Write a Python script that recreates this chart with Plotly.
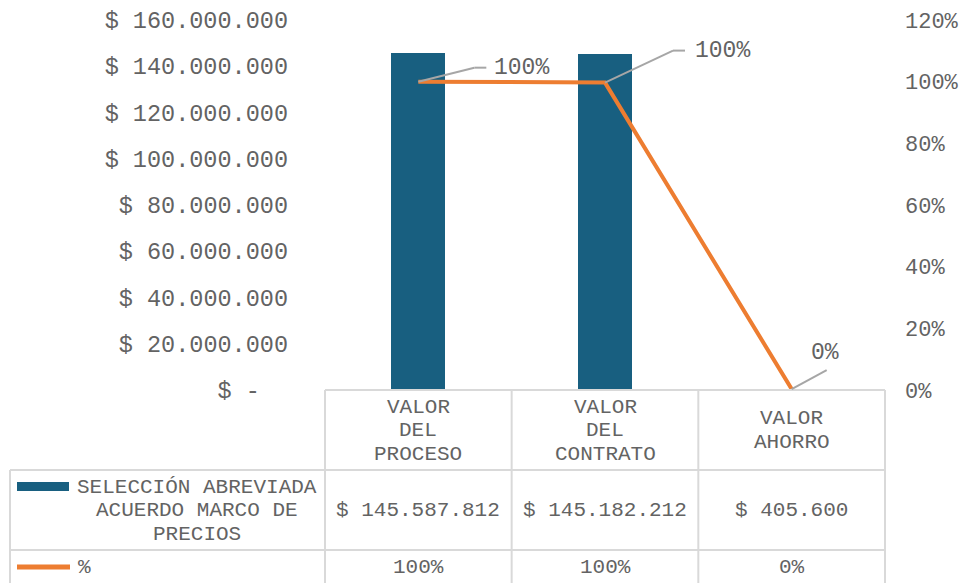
import plotly.graph_objects as go

# ---------------- data ----------------
categories = ["VALOR DEL PROCESO", "VALOR DEL CONTRATO", "VALOR AHORRO"]
header_lines = [["VALOR", "DEL", "PROCESO"], ["VALOR", "DEL", "CONTRATO"], ["VALOR", "AHORRO"]]
series_label_lines = ["SELECCIÓN ABREVIADA", "ACUERDO MARCO DE", "PRECIOS"]
values = [145587812, 145182212, 405600]
pct_name = "%"
pct = [1.00, 0.997, 0.003]
left_tickvals = [0, 20e6, 40e6, 60e6, 80e6, 100e6, 120e6, 140e6, 160e6]
left_ticktext = ["$ -\u00a0\u00a0", "$ 20.000.000", "$ 40.000.000", "$ 60.000.000",
                 "$ 80.000.000", "$ 100.000.000", "$ 120.000.000", "$ 140.000.000",
                 "$ 160.000.000"]
right_tickvals = [0, 0.2, 0.4, 0.6, 0.8, 1.0, 1.2]
right_ticktext = ["0%", "20%", "40%", "60%", "80%", "100%", "120%"]


def money(v):
    return "$ " + f"{v:,.0f}".replace(",", ".")


def pfmt(p):
    return f"{p*100:.0f}%"


# ---------------- style ----------------
FONT = "Liberation Mono"
TXT = "#636363"
GRID = "#D9D9D9"
BAR = "#185F80"
LINE = "#ED7D31"
W, H = 965, 583
L, R, T, B = 325, 80, 20, 193
PW, PH = W - L - R, H - T - B


def X(px):
    return (px - L) / PW


def Y(py):
    return (H - B - py) / PH


fig = go.Figure()
fig.add_trace(go.Bar(x=categories, y=values, width=0.29, marker_color=BAR,
                     marker_line_width=0, name="SELECCIÓN ABREVIADA ACUERDO MARCO DE PRECIOS"))
fig.add_trace(go.Scatter(x=categories, y=pct, yaxis="y2", mode="lines",
                         line=dict(color=LINE, width=4), name=pct_name))

shapes = []
annotations = []


def txt(xref, x, py, text, size=21, xanchor="center"):
    annotations.append(dict(xref=xref, yref="paper", x=x, y=Y(py), text=text, showarrow=False,
                            xanchor=xanchor, yanchor="middle",
                            font=dict(family=FONT, size=size, color=TXT)))


# table lines
line_style = dict(color=GRID, width=2)
shapes.append(dict(type="line", xref="paper", yref="paper", x0=0, x1=1, y0=Y(390), y1=Y(390), line=line_style))
for py in (470, 550):
    shapes.append(dict(type="line", xref="paper", yref="paper", x0=X(10), x1=1, y0=Y(py), y1=Y(py), line=line_style))
for i in range(4):
    shapes.append(dict(type="line", xref="paper", yref="paper", x0=i / 3, x1=i / 3, y0=Y(390), y1=Y(590), line=line_style))
shapes.append(dict(type="line", xref="paper", yref="paper", x0=X(10), x1=X(10), y0=Y(470), y1=Y(590), line=line_style))

# legend keys
shapes.append(dict(type="rect", xref="paper", yref="paper", x0=X(17), x1=X(69), y0=Y(491), y1=Y(482),
                   fillcolor=BAR, line=dict(width=0)))
shapes.append(dict(type="line", xref="paper", yref="paper", x0=X(17), x1=X(70), y0=Y(567), y1=Y(567),
                   line=dict(color=LINE, width=5)))

# header cells
for cat, lines in zip(categories, header_lines):
    n = len(lines)
    for k, t in enumerate(lines):
        txt("x", cat, 430.5 + (k - (n - 1) / 2) * 23.5, t)
# value cells
for cat, v, p in zip(categories, values, pct):
    txt("x", cat, 510, money(v))
    txt("x", cat, 567, pfmt(p))
# row labels
for py, t in zip((487, 510, 534), series_label_lines):
    txt("paper", X(197), py, t)
txt("paper", X(76), 567, pct_name, xanchor="left")

# data labels with leader lines
label_offsets = [(103, 14), (117, 32), (33, 36)]
leaders = [[(0, 0, 56, 14), (56, 14, 68, 14)],
           [(0, 0, 68, 32), (68, 32, 80, 32)],
           [(0, 0, 35, 19)]]
for cat, p, (dx, dy), segs in zip(categories, pct, label_offsets, leaders):
    annotations.append(dict(xref="x", yref="y2", x=cat, y=p, xshift=dx, yshift=dy, text=pfmt(p),
                            showarrow=False, xanchor="center", yanchor="middle",
                            font=dict(family=FONT, size=23, color=TXT)))
    for (a, b, c, d) in segs:
        shapes.append(dict(type="line", xref="x", yref="y2", xsizemode="pixel", ysizemode="pixel",
                           xanchor=cat, yanchor=p, x0=a, x1=c, y0=b, y1=d,
                           line=dict(color="#A6A6A6", width=2)))

fig.update_layout(
    width=W, height=H,
    margin=dict(l=L, r=R, t=T, b=B, pad=0),
    paper_bgcolor="white", plot_bgcolor="white",
    showlegend=False,
    bargap=0,
    xaxis=dict(showticklabels=False, showgrid=False, zeroline=False, showline=False,
               range=[-0.5, 2.5], fixedrange=True, automargin=False),
    yaxis=dict(range=[0, 160e6], tickvals=left_tickvals, ticktext=left_ticktext,
               showgrid=False, zeroline=False, showline=False, ticks="", automargin=False,
               tickfont=dict(family=FONT, size=23.5, color=TXT), ticklabelstandoff=36),
    yaxis2=dict(range=[0, 1.2], overlaying="y", side="right", tickvals=right_tickvals,
                ticktext=right_ticktext, showgrid=False, zeroline=False, showline=False, ticks="",
                automargin=False,
                tickfont=dict(family=FONT, size=22, color=TXT), ticklabelstandoff=19),
    shapes=shapes,
    annotations=annotations,
)

fig.write_html("out.html", config={"displayModeBar": False},
               post_script="document.body.style.margin='0';document.body.style.overflow='hidden';")
